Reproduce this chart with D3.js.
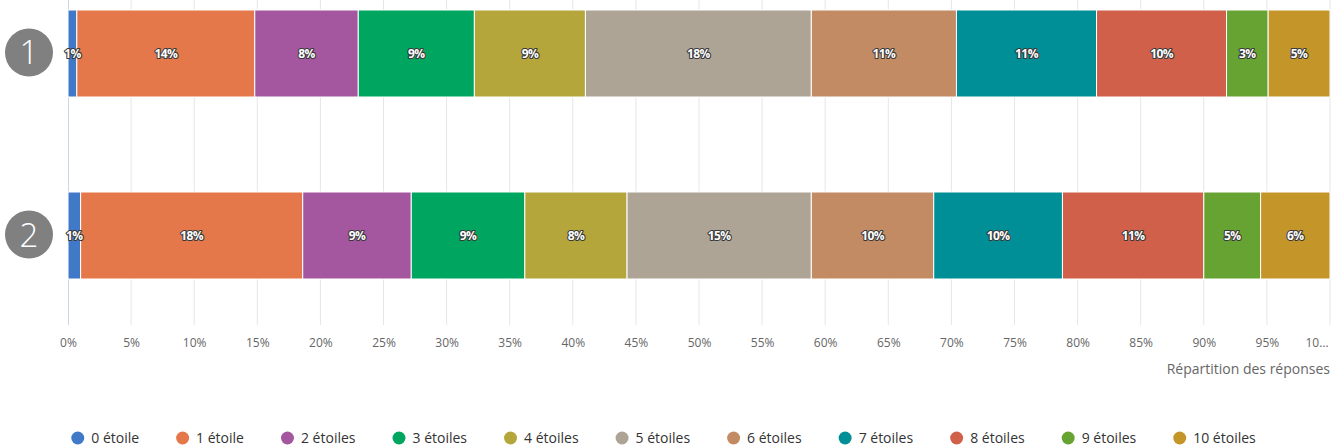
<!DOCTYPE html>
<html>
<head>
<meta charset="utf-8">
<script src="https://cdn.jsdelivr.net/npm/d3@7"></script>
<style>
  body { margin: 0; background: #fff; }
  svg { font-family: "Open Sans", sans-serif; display: block; }
</style>
</head>
<body>
<div id="chart"></div>
<script>
const width = 1331, height = 446;

const questions = ["1", "2"];
const categories = ["0 étoile", "1 étoile", "2 étoiles", "3 étoiles", "4 étoiles", "5 étoiles",
    "6 étoiles", "7 étoiles", "8 étoiles", "9 étoiles", "10 étoiles"];
const colors = ["#4179c9", "#e4784a", "#a4579e", "#00a65f", "#b5a63c", "#ada496",
    "#c38b64", "#008f96", "#d0604a", "#67a332", "#c4962a"];
const values1 = [0.7, 14.1, 8.2, 9.2, 8.8, 17.9, 11.5, 11.1, 10.3, 3.3, 4.9];
const values2 = [1.0, 17.6, 8.6, 9.0, 8.1, 14.6, 9.7, 10.2, 11.2, 4.5, 5.5];
const labels1 = ["1%", "14%", "8%", "9%", "9%", "18%", "11%", "11%", "10%", "3%", "5%"];
const labels2 = ["1%", "18%", "9%", "9%", "8%", "15%", "10%", "10%", "11%", "5%", "6%"];
const tickValues = d3.range(0, 101, 5);
const tickLabels = tickValues.map(function(d) { return d === 100 ? "10…" : d + "%"; });

const margin = {left: 68, right: 1, top: 0};

let svg = d3.select("#chart")
    .append("svg")
    .attr("width", width)
    .attr("height", height);

let x = d3.scaleLinear()
    .domain([0, 100])
    .range([margin.left, width - margin.right]);

let y = d3.scaleBand()
    .domain(questions)
    .range([10, 279])
    .paddingInner(0.522)
    .paddingOuter(0);

// grid
svg.append("g")
    .selectAll("line")
    .data(tickValues.slice(1))
    .enter()
    .append("line")
    .attr("x1", function(d) { return x(d); })
    .attr("x2", function(d) { return x(d); })
    .attr("y1", 0)
    .attr("y2", 325)
    .attr("stroke", "#e6e6e6")
    .attr("stroke-width", 1);

svg.append("line")
    .attr("x1", x(0) + 0.5).attr("x2", x(0) + 0.5)
    .attr("y1", 0).attr("y2", 325)
    .attr("stroke", "#ccd6eb");

// x axis labels
let xAxis = svg.append("g")
    .attr("transform", "translate(0, 333)")
    .call(d3.axisBottom(x).tickValues(tickValues).tickSize(0).tickPadding(5)
        .tickFormat(function(d, i) { return tickLabels[i]; }));
xAxis.select(".domain").remove();
xAxis.selectAll("text")
    .style("font-family", "'Open Sans', sans-serif")
    .style("font-size", "12px")
    .attr("fill", "#666");
xAxis.selectAll(".tick")
    .filter(function(d) { return d === 100; })
    .select("text")
    .attr("text-anchor", "end")
    .attr("dx", -2);

svg.append("text")
    .attr("x", width - 1)
    .attr("y", 374)
    .style("text-anchor", "end")
    .style("font-size", "14px")
    .attr("fill", "#666")
    .text("Répartition des réponses");

// stacked bars
const rows = [
    {q: "1", values: values1, labels: labels1},
    {q: "2", values: values2, labels: labels2}
];

rows.forEach(function(row) {
    let acc = 0;
    let segs = row.values.map(function(v, i) {
        let s = {start: acc, end: acc + v, color: colors[i], label: row.labels[i]};
        acc += v;
        return s;
    });
    let total = acc;
    segs.forEach(function(s) { s.start = s.start / total * 100; s.end = s.end / total * 100; });

    let g = svg.append("g");
    g.selectAll("rect")
        .data(segs)
        .enter()
        .append("rect")
        .attr("x", function(d) { return x(d.start); })
        .attr("y", y(row.q))
        .attr("width", function(d) { return x(d.end) - x(d.start); })
        .attr("height", y.bandwidth())
        .attr("fill", function(d) { return d.color; })
        .attr("stroke", "#fff")
        .attr("stroke-width", 1);

    g.selectAll("text")
        .data(segs)
        .enter()
        .append("text")
        .attr("x", function(d) { return (x(d.start) + x(d.end)) / 2; })
        .attr("y", y(row.q) + y.bandwidth() / 2 + 4.5)
        .style("text-anchor", "middle")
        .style("font-size", "12px")
        .style("font-weight", 700)
        .style("letter-spacing", "-0.6px")
        .attr("fill", "#fff")
        .attr("stroke", "#3a3a3a")
        .attr("stroke-width", 2.2)
        .attr("stroke-linejoin", "round")
        .style("paint-order", "stroke")
        .text(function(d) { return d.label; });

    // question badge
    svg.append("circle")
        .attr("cx", 29)
        .attr("cy", y(row.q) + y.bandwidth() / 2 - 1)
        .attr("r", 24)
        .attr("fill", "#808080");
    svg.append("text")
        .attr("x", 29)
        .attr("y", y(row.q) + y.bandwidth() / 2 + 11)
        .style("text-anchor", "middle")
        .style("font-size", "33px")
        .style("font-weight", 300)
        .attr("fill", "#fff")
        .text(row.q);
});

// legend
let legend = svg.append("g");
let items = legend.selectAll("g")
    .data(categories)
    .enter()
    .append("g");
items.append("circle")
    .attr("r", 6.5)
    .attr("cx", 6.5)
    .attr("cy", 0)
    .attr("fill", function(d, i) { return colors[i]; });
items.append("text")
    .attr("x", 20)
    .attr("y", 5)
    .style("font-size", "14px")
    .attr("fill", "#333")
    .text(function(d) { return d; });

let pos = 0;
let offsets = [];
const gap = 37;
items.each(function() {
    offsets.push(pos);
    let w = d3.select(this).select("text").node().getComputedTextLength();
    pos += 20 + w + gap;
});
let totalW = pos - gap;
let startX = (width - totalW) / 2 - 2;
items.attr("transform", function(d, i) { return `translate(${startX + offsets[i]}, 438)`; });
</script>
</body>
</html>
